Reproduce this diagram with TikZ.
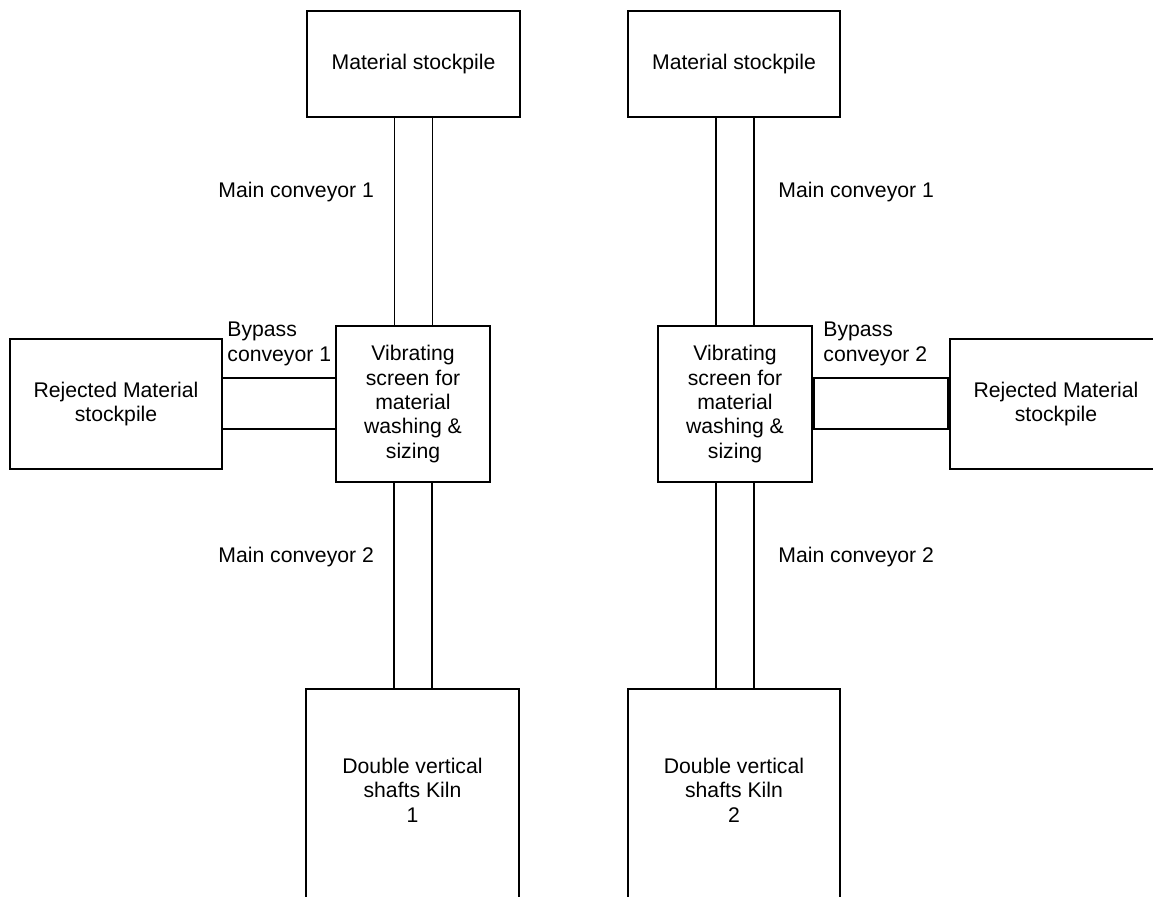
\documentclass[tikz,border=0pt]{standalone}
\usepackage{fontspec}
\setmainfont{Liberation Sans}
\begin{document}
\begin{tikzpicture}[x=0.5pt,y=-0.5pt,
  every node/.style={inner sep=0pt, font=\fontsize{10.6pt}{12.2pt}\selectfont},
  box/.style={draw, line width=0.7pt, align=center},
  conv/.style={line width=0.7pt},
  lbl/.style={anchor=west, align=left}]
\useasboundingbox (0,0) rectangle (1153,896);
% stockpiles
\node[box, minimum width=106.5pt, minimum height=53pt] (ms1) at (413.5,64) {Material stockpile};
\node[box, minimum width=106pt, minimum height=53pt] (ms2) at (734,64) {Material stockpile};
% vibrating screens
\node[box, minimum width=77pt, minimum height=78pt] (vib1) at (413,404) {Vibrating\\screen for\\material\\washing \&\\sizing};
\node[box, minimum width=77pt, minimum height=78pt] (vib2) at (735,404) {Vibrating\\screen for\\material\\washing \&\\sizing};
% rejected stockpiles
\node[box, minimum width=106pt, minimum height=65pt] (rej1) at (116,404) {Rejected Material\\stockpile};
\node[box, minimum width=106pt, minimum height=65pt] (rej2) at (1056,404) {Rejected Material\\stockpile};
% kilns
\node[box, minimum width=106.5pt, minimum height=115pt] (kiln1) at (412.5,804) {};
\node[box, minimum width=106pt, minimum height=115pt] (kiln2) at (734,804) {};
\node[align=center] (k1t) at (412.5,790) {Double vertical\\shafts Kiln\\1};
\node[align=center] (k2t) at (734,790) {Double vertical\\shafts Kiln\\2};
% main conveyors
\draw[conv] ([xshift=-9.5pt]ms1.south) -- ([xshift=-9.5pt]ms1.south |- vib1.north);
\draw[conv] ([xshift=9.5pt]ms1.south) -- ([xshift=9.5pt]ms1.south |- vib1.north);
\draw[conv] ([xshift=-9.5pt]vib1.south) -- ([xshift=-9.5pt]vib1.south |- kiln1.north);
\draw[conv] ([xshift=9.5pt]vib1.south) -- ([xshift=9.5pt]vib1.south |- kiln1.north);
\draw[conv] ([xshift=-9.5pt]vib2.north) -- ([xshift=-9.5pt]vib2.north |- ms2.south);
\draw[conv] ([xshift=9.5pt]vib2.north) -- ([xshift=9.5pt]vib2.north |- ms2.south);
\draw[conv] ([xshift=-9.5pt]vib2.south) -- ([xshift=-9.5pt]vib2.south |- kiln2.north);
\draw[conv] ([xshift=9.5pt]vib2.south) -- ([xshift=9.5pt]vib2.south |- kiln2.north);
% bypass conveyor 1
\draw[conv] ([yshift=13pt]rej1.east) -- ([yshift=13pt]vib1.west);
\draw[conv] ([yshift=-12.5pt]rej1.east) -- ([yshift=-12.5pt]vib1.west);
% bypass conveyor 2
\node[box, minimum width=67pt, minimum height=25.5pt] (bp2) at (881,403.5) {};
\draw[conv] (vib2.east) -- (bp2.west);
\draw[conv] (bp2.east) -- (rej2.west);
% labels
\node[lbl] (l1) at (218,192) {Main conveyor 1};
\node[lbl] (l2) at (778,192) {Main conveyor 1};
\node[lbl] (l3) at (218,557) {Main conveyor 2};
\node[lbl] (l4) at (778,557) {Main conveyor 2};
\node[lbl] (b1) at (227,344) {Bypass\\conveyor 1};
\node[lbl] (b2) at (823,344) {Bypass\\conveyor 2};
\end{tikzpicture}
\end{document}
